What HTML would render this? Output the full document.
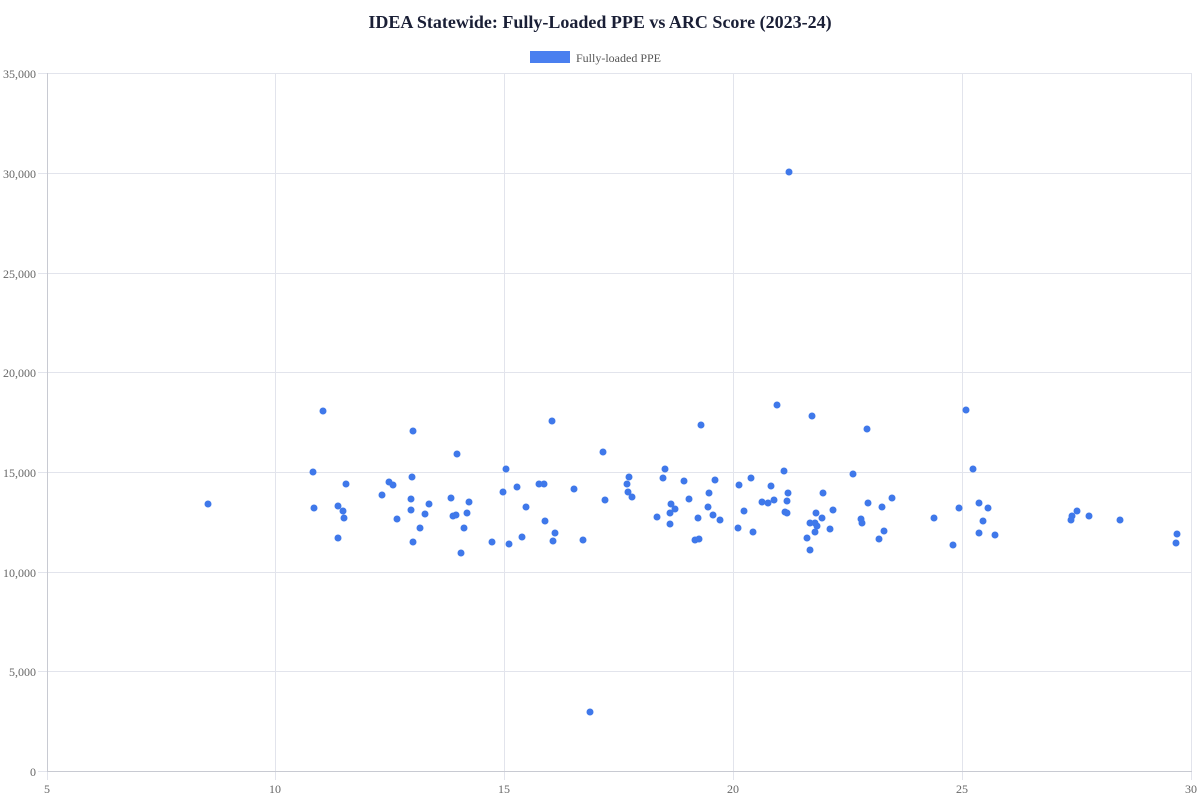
<!DOCTYPE html>
<html><head><meta charset="utf-8"><style>
html,body{margin:0;padding:0;background:#fff;}
svg{display:block;font-family:"Liberation Serif",serif;}
</style></head><body>
<svg width="1200" height="800" viewBox="0 0 1200 800" xmlns="http://www.w3.org/2000/svg">
<text x="600" y="28" text-anchor="middle" font-size="18" font-weight="bold" fill="#1a1f36">IDEA Statewide: Fully-Loaded PPE vs ARC Score (2023-24)</text>
<rect x="530" y="51" width="40" height="12" fill="#4a7fef"/>
<text x="576" y="62" font-size="12" fill="#555">Fully-loaded PPE</text>
<g stroke="#e2e4ec" stroke-width="1">
<line x1="47.5" y1="73.5" x2="1192" y2="73.5"/><line x1="47.5" y1="173.5" x2="1192" y2="173.5"/>
<line x1="47.5" y1="273.5" x2="1192" y2="273.5"/><line x1="47.5" y1="372.5" x2="1192" y2="372.5"/>
<line x1="47.5" y1="472.5" x2="1192" y2="472.5"/><line x1="47.5" y1="572.5" x2="1192" y2="572.5"/>
<line x1="47.5" y1="671.5" x2="1192" y2="671.5"/>
<line x1="275.5" y1="73" x2="275.5" y2="771"/><line x1="504.5" y1="73" x2="504.5" y2="771"/>
<line x1="733.5" y1="73" x2="733.5" y2="771"/><line x1="962.5" y1="73" x2="962.5" y2="771"/>
<line x1="1191.5" y1="73" x2="1191.5" y2="771"/>
<line x1="38" y1="73.5" x2="47" y2="73.5"/><line x1="38" y1="173.5" x2="47" y2="173.5"/><line x1="38" y1="273.5" x2="47" y2="273.5"/><line x1="38" y1="372.5" x2="47" y2="372.5"/><line x1="38" y1="472.5" x2="47" y2="472.5"/><line x1="38" y1="572.5" x2="47" y2="572.5"/><line x1="38" y1="671.5" x2="47" y2="671.5"/><line x1="38" y1="771.5" x2="47" y2="771.5"/>
<line x1="47.5" y1="772" x2="47.5" y2="780"/><line x1="275.5" y1="772" x2="275.5" y2="780"/><line x1="504.5" y1="772" x2="504.5" y2="780"/><line x1="733.5" y1="772" x2="733.5" y2="780"/><line x1="962.5" y1="772" x2="962.5" y2="780"/><line x1="1191.5" y1="772" x2="1191.5" y2="780"/>
</g>
<line x1="47.5" y1="73" x2="47.5" y2="772" stroke="#c8cad2"/>
<line x1="47" y1="771.5" x2="1192" y2="771.5" stroke="#c8cad2"/>
<g font-size="12" fill="#666" text-anchor="end">
<text x="36" y="78">35,000</text><text x="36" y="178">30,000</text><text x="36" y="278">25,000</text><text x="36" y="377">20,000</text><text x="36" y="477">15,000</text><text x="36" y="577">10,000</text><text x="36" y="676">5,000</text><text x="36" y="776">0</text>
</g>
<g font-size="12" fill="#666" text-anchor="middle">
<text x="47" y="793">5</text><text x="275" y="793">10</text><text x="504" y="793">15</text><text x="733" y="793">20</text><text x="962" y="793">25</text><text x="1191" y="793">30</text>
</g>
<g fill="#3f78ea">
<circle cx="789" cy="172" r="3.5"/><circle cx="590" cy="712" r="3.5"/><circle cx="208" cy="504" r="3.5"/>
<circle cx="323" cy="411" r="3.5"/><circle cx="413" cy="431" r="3.5"/><circle cx="457" cy="454" r="3.5"/><circle cx="552" cy="421" r="3.5"/><circle cx="603" cy="452" r="3.5"/><circle cx="313" cy="472" r="3.5"/><circle cx="506" cy="469" r="3.5"/><circle cx="346" cy="484" r="3.5"/><circle cx="389" cy="482" r="3.5"/><circle cx="393" cy="485" r="3.5"/><circle cx="412" cy="477" r="3.5"/><circle cx="382" cy="495" r="3.5"/><circle cx="503" cy="492" r="3.5"/><circle cx="517" cy="487" r="3.5"/><circle cx="539" cy="484" r="3.5"/><circle cx="544" cy="484" r="3.5"/><circle cx="574" cy="489" r="3.5"/><circle cx="314" cy="508" r="3.5"/><circle cx="338" cy="506" r="3.5"/><circle cx="343" cy="511" r="3.5"/><circle cx="344" cy="518" r="3.5"/><circle cx="411" cy="499" r="3.5"/><circle cx="411" cy="510" r="3.5"/><circle cx="429" cy="504" r="3.5"/><circle cx="425" cy="514" r="3.5"/><circle cx="451" cy="498" r="3.5"/><circle cx="469" cy="502" r="3.5"/><circle cx="467" cy="513" r="3.5"/><circle cx="453" cy="516" r="3.5"/><circle cx="456" cy="515" r="3.5"/><circle cx="397" cy="519" r="3.5"/><circle cx="420" cy="528" r="3.5"/><circle cx="464" cy="528" r="3.5"/><circle cx="526" cy="507" r="3.5"/><circle cx="545" cy="521" r="3.5"/><circle cx="555" cy="533" r="3.5"/><circle cx="553" cy="541" r="3.5"/><circle cx="583" cy="540" r="3.5"/><circle cx="605" cy="500" r="3.5"/><circle cx="338" cy="538" r="3.5"/><circle cx="413" cy="542" r="3.5"/><circle cx="461" cy="553" r="3.5"/><circle cx="492" cy="542" r="3.5"/><circle cx="509" cy="544" r="3.5"/><circle cx="522" cy="537" r="3.5"/>
<circle cx="777" cy="405" r="3.5"/><circle cx="812" cy="416" r="3.5"/><circle cx="867" cy="429" r="3.5"/><circle cx="701" cy="425" r="3.5"/><circle cx="665" cy="469" r="3.5"/><circle cx="629" cy="477" r="3.5"/><circle cx="663" cy="478" r="3.5"/><circle cx="627" cy="484" r="3.5"/><circle cx="628" cy="492" r="3.5"/><circle cx="632" cy="497" r="3.5"/><circle cx="684" cy="481" r="3.5"/><circle cx="715" cy="480" r="3.5"/><circle cx="709" cy="493" r="3.5"/><circle cx="689" cy="499" r="3.5"/><circle cx="671" cy="504" r="3.5"/><circle cx="675" cy="509" r="3.5"/><circle cx="670" cy="513" r="3.5"/><circle cx="657" cy="517" r="3.5"/><circle cx="670" cy="524" r="3.5"/><circle cx="708" cy="507" r="3.5"/><circle cx="713" cy="515" r="3.5"/><circle cx="720" cy="520" r="3.5"/><circle cx="698" cy="518" r="3.5"/><circle cx="695" cy="540" r="3.5"/><circle cx="699" cy="539" r="3.5"/><circle cx="739" cy="485" r="3.5"/><circle cx="751" cy="478" r="3.5"/><circle cx="784" cy="471" r="3.5"/><circle cx="771" cy="486" r="3.5"/><circle cx="788" cy="493" r="3.5"/><circle cx="787" cy="501" r="3.5"/><circle cx="762" cy="502" r="3.5"/><circle cx="768" cy="503" r="3.5"/><circle cx="774" cy="500" r="3.5"/><circle cx="853" cy="474" r="3.5"/><circle cx="823" cy="493" r="3.5"/><circle cx="868" cy="503" r="3.5"/><circle cx="882" cy="507" r="3.5"/><circle cx="892" cy="498" r="3.5"/><circle cx="744" cy="511" r="3.5"/><circle cx="785" cy="512" r="3.5"/><circle cx="787" cy="513" r="3.5"/><circle cx="738" cy="528" r="3.5"/><circle cx="753" cy="532" r="3.5"/><circle cx="816" cy="513" r="3.5"/><circle cx="833" cy="510" r="3.5"/><circle cx="822" cy="518" r="3.5"/><circle cx="810" cy="523" r="3.5"/><circle cx="815" cy="523" r="3.5"/><circle cx="817" cy="526" r="3.5"/><circle cx="815" cy="532" r="3.5"/><circle cx="830" cy="529" r="3.5"/><circle cx="807" cy="538" r="3.5"/><circle cx="810" cy="550" r="3.5"/><circle cx="861" cy="519" r="3.5"/><circle cx="862" cy="523" r="3.5"/><circle cx="884" cy="531" r="3.5"/><circle cx="879" cy="539" r="3.5"/>
<circle cx="966" cy="410" r="3.5"/><circle cx="973" cy="469" r="3.5"/><circle cx="934" cy="518" r="3.5"/><circle cx="953" cy="545" r="3.5"/><circle cx="959" cy="508" r="3.5"/><circle cx="979" cy="503" r="3.5"/><circle cx="979" cy="533" r="3.5"/><circle cx="983" cy="521" r="3.5"/><circle cx="988" cy="508" r="3.5"/><circle cx="995" cy="535" r="3.5"/><circle cx="1071" cy="520" r="3.5"/><circle cx="1072" cy="516" r="3.5"/><circle cx="1077" cy="511" r="3.5"/><circle cx="1089" cy="516" r="3.5"/><circle cx="1120" cy="520" r="3.5"/><circle cx="1177" cy="534" r="3.5"/><circle cx="1176" cy="543" r="3.5"/>
</g>
</svg>
</body></html>
